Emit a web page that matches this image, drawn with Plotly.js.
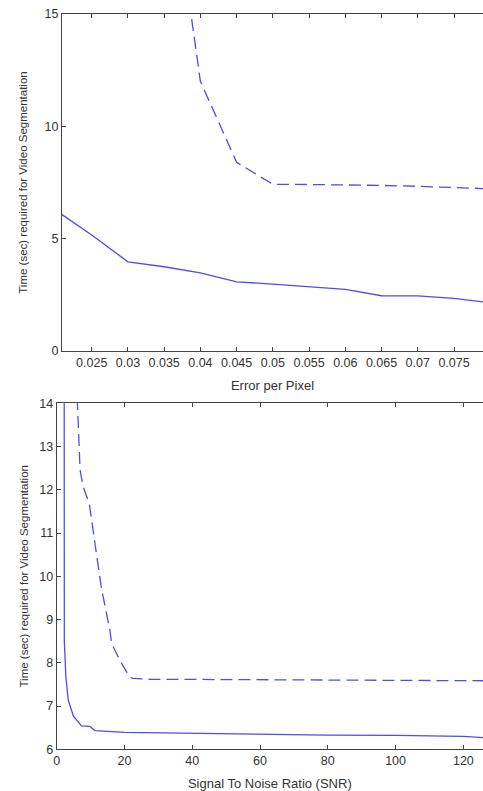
<!DOCTYPE html>
<html>
<head>
<meta charset="utf-8">
<script src="https://cdn.plot.ly/plotly-3.0.1.min.js"></script>
<style>
html,body{margin:0;padding:0;background:#fff;overflow:hidden;}
#chart{width:483px;height:791px;}
</style>
</head>
<body>
<div id="chart"></div>
<script>
// Top chart: Error per Pixel
const errX = [0.02, 0.025, 0.03, 0.035, 0.04, 0.045, 0.05, 0.055, 0.06, 0.065, 0.07, 0.075, 0.08];
const errSolid = [6.27, 5.16, 3.97, 3.75, 3.48, 3.08, 2.98, 2.86, 2.74, 2.46, 2.45, 2.34, 2.15];
const errDashX = [0.035, 0.04, 0.045, 0.05, 0.055, 0.06, 0.065, 0.07, 0.075, 0.08];
const errDashed = [23.5, 12.0, 8.4, 7.42, 7.41, 7.40, 7.37, 7.33, 7.28, 7.22];

// Bottom chart: Signal To Noise Ratio
const snrSolidX = [2.2, 2.25, 2.7, 3.4, 4.9, 7.3, 9.8, 11.3, 20, 40, 60, 80, 100, 120, 126];
const snrSolid  = [16, 8.5, 7.68, 7.14, 6.77, 6.54, 6.53, 6.43, 6.39, 6.37, 6.34, 6.33, 6.32, 6.30, 6.27];
const snrDashX = [5, 6.1, 6.6, 6.9, 7.8, 9.6, 13.2, 15.7, 16.2, 18.6, 21.6, 22.5, 27.4, 60, 104, 126];
const snrDashed = [16.2, 14.0, 13.0, 12.46, 12.07, 11.69, 9.72, 8.76, 8.45, 8.06, 7.66, 7.64, 7.62, 7.61, 7.59, 7.585];

const topXTicks = [0.025, 0.03, 0.035, 0.04, 0.045, 0.05, 0.055, 0.06, 0.065, 0.07, 0.075];
const topXTickText = ['0.025', '0.03', '0.035', '0.04', '0.045', '0.05', '0.055', '0.06', '0.065', '0.07', '0.075'];

const yTitle = 'Time (sec) required for Video Segmentation';
const lineColor = '#4c4cf0';
const axColor = '#444';
const txtColor = '#333';
const FONT = 'Liberation Sans, Arial, sans-serif';

const traces = [
  {x: errX, y: errSolid, xaxis: 'x', yaxis: 'y', mode: 'lines',
   line: {color: lineColor, width: 1.3}},
  {x: errDashX, y: errDashed, xaxis: 'x', yaxis: 'y', mode: 'lines',
   line: {color: lineColor, width: 1.3, dash: '12px,6px'}},
  {x: snrSolidX, y: snrSolid, xaxis: 'x2', yaxis: 'y2', mode: 'lines',
   line: {color: lineColor, width: 1.3}},
  {x: snrDashX, y: snrDashed, xaxis: 'x2', yaxis: 'y2', mode: 'lines',
   line: {color: lineColor, width: 1.3, dash: '12px,6px'}}
];

const common = {
  showline: true, linecolor: axColor, linewidth: 1,
  ticks: 'inside', ticklen: 4, tickcolor: axColor, tickwidth: 1,
  showgrid: false, zeroline: false, automargin: false,
  tickfont: {family: FONT, size: 12.5, color: txtColor}
};

const layout = {
  width: 483, height: 791,
  margin: {l: 0, r: 0, t: 0, b: 0},
  paper_bgcolor: '#fff', plot_bgcolor: '#fff',
  showlegend: false,
  font: {family: FONT, color: txtColor},
  xaxis: Object.assign({}, common, {
    domain: [62/483, 1], anchor: 'y', mirror: 'ticks',
    range: [0.0209, 0.0790], tickvals: topXTicks, ticktext: topXTickText,
    title: {text: 'Error per Pixel', font: {family: FONT, size: 13, color: txtColor}, standoff: 11}
  }),
  yaxis: Object.assign({}, common, {
    domain: [1 - 351/791, 1 - 14/791], anchor: 'x',
    range: [0, 15], dtick: 5,
    title: {text: yTitle, font: {family: FONT, size: 11.5, color: txtColor}, standoff: 14}
  }),
  xaxis2: Object.assign({}, common, {
    domain: [56.7/483, 1], anchor: 'y2', mirror: 'ticks',
    range: [0, 125.8], dtick: 20,
    title: {text: 'Signal To Noise Ratio (SNR)', font: {family: FONT, size: 13, color: txtColor}, standoff: 11}
  }),
  yaxis2: Object.assign({}, common, {
    domain: [1 - 749.3/791, 1 - 403.3/791], anchor: 'x2',
    range: [6, 14], dtick: 1,
    title: {text: yTitle, font: {family: FONT, size: 11.5, color: txtColor}, standoff: 8}
  })
};

Plotly.newPlot('chart', traces, layout, {displayModeBar: false, staticPlot: true});
</script>
</body>
</html>
